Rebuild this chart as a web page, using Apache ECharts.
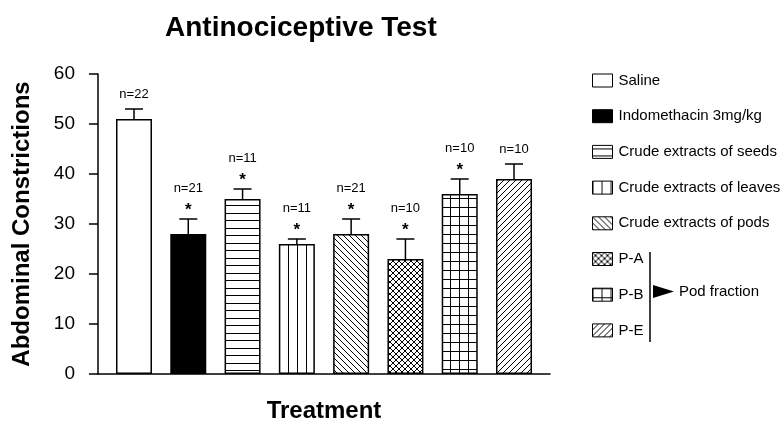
<!DOCTYPE html>
<html><head><meta charset="utf-8">
<script src="https://cdn.jsdelivr.net/npm/echarts@6/dist/echarts.min.js"></script>
<style>html,body{margin:0;padding:0;background:#fff}#c{width:783px;height:422px}</style>
</head><body><div id="c"></div>
<script>
const categories = ['Saline','Indomethacin 3mg/kg','Crude extracts of seeds','Crude extracts of leaves','Crude extracts of pods','P-A','P-B','P-E'];
const means = [51,28,35,26,28,23,36,39];
const errTops = [53,31,37,27,31,27,39,42];
const nLabels = ['n=22','n=21','n=11','n=11','n=21','n=10','n=10','n=10'];
const significant = [false,true,true,true,true,true,true,false];
const patternTypes = ['white','black','hlines','vlines','backslash','cross','grid','slash'];

const FONT = 'Liberation Sans, Arial, Helvetica, sans-serif';

function makePattern(type){
  if(type==='white') return '#fff';
  if(type==='black') return '#000';
  const c=document.createElement('canvas');
  let w=6,h=6;
  if(type==='hlines'){w=4;h=15;}
  if(type==='vlines'){w=9;h=4;}
  if(type==='grid'){w=9;h=9;}
  c.width=w;c.height=h;
  const g=c.getContext('2d');
  g.fillStyle='#fff';g.fillRect(0,0,w,h);
  g.fillStyle='#000';g.strokeStyle='#000';g.lineWidth=1;
  if(type==='hlines'){g.fillRect(0,3,w,1);g.fillRect(0,10,w,1);}
  if(type==='vlines'){g.fillRect(0,0,1,h);}
  if(type==='grid'){g.fillRect(0,0,1,h);g.fillRect(0,0,w,1);}
  function diag(dir){
    g.beginPath();
    if(dir>0){
      g.moveTo(-1,-1);g.lineTo(w+1,h+1);
      g.moveTo(-1,h-1);g.lineTo(1,h+1);
      g.moveTo(w-1,-1);g.lineTo(w+1,1);
    } else {
      g.moveTo(-1,h+1);g.lineTo(w+1,-1);
      g.moveTo(-1,1);g.lineTo(1,-1);
      g.moveTo(w-1,h+1);g.lineTo(w+1,h-1);
    }
    g.stroke();
  }
  if(type==='backslash') diag(1);
  if(type==='slash') diag(-1);
  if(type==='cross'){diag(1);diag(-1);}
  return {image:c,repeat:'repeat'};
}

const barSeries = categories.map((name,i)=>({
  name:name,
  type:'bar',
  barWidth:36,
  barGap:'-100%',
  data:[[i,means[i]]],
  itemStyle:{color:makePattern(patternTypes[i]),borderColor:'#000',borderWidth:1.5},
  emphasis:{disabled:true},
  z:2
}));

const errSeries = {
  name:'err',
  type:'custom',
  data:categories.map((c,i)=>[i,errTops[i],means[i]]),
  z:3,
  renderItem:function(params,api){
    const idx=params.dataIndex;
    const i=api.value(0);
    const top=api.coord([i,api.value(1)]);
    const base=api.coord([i,api.value(2)]);
    const kids=[
      {type:'line',shape:{x1:top[0],y1:base[1],x2:top[0],y2:top[1]},style:{stroke:'#000',lineWidth:1.5}},
      {type:'line',shape:{x1:top[0]-9,y1:top[1],x2:top[0]+9,y2:top[1]},style:{stroke:'#000',lineWidth:1.5}}
    ];
    if(significant[idx]){
      kids.push({type:'text',style:{text:'*',x:top[0],y:top[1]-9,align:'center',verticalAlign:'middle',font:'bold 17px '+FONT,fill:'#000'}});
    }
    kids.push({type:'text',style:{text:nLabels[idx],x:top[0],y:top[1]-(significant[idx]?31:15),align:'center',verticalAlign:'middle',font:'13px '+FONT,fill:'#000'}});
    return {type:'group',children:kids};
  }
};

const chart=echarts.init(document.getElementById('c'),null,{renderer:'canvas'});
chart.setOption({
  animation:false,
  backgroundColor:'#fff',
  title:{text:'Antinociceptive Test',left:165,top:14,padding:0,textStyle:{fontFamily:FONT,fontSize:28,fontWeight:'bold',color:'#000'}},
  grid:{left:98,right:233,top:74,bottom:48,containLabel:false,outerBoundsMode:'none'},
  legend:{
    data:categories,orient:'vertical',left:592,top:73,padding:0,
    itemWidth:20,itemHeight:13,itemGap:20.7,icon:'rect',
    selectedMode:false,
    itemStyle:{borderColor:'#000',borderWidth:1},
    textStyle:{fontFamily:FONT,fontSize:15,color:'#000',padding:[0,0,0,1]}
  },
  xAxis:{
    type:'value',min:-0.663,max:7.663,
    name:'Treatment',nameLocation:'middle',nameGap:25,
    nameTextStyle:{fontFamily:FONT,fontSize:24,fontWeight:'bold',color:'#000'},
    axisLine:{show:true,onZero:false,lineStyle:{color:'#000',width:1.5}},
    axisTick:{show:false},axisLabel:{show:false},splitLine:{show:false}
  },
  yAxis:{
    type:'value',min:0,max:60,interval:10,
    name:'Abdominal Constrictions',nameLocation:'middle',nameGap:64,nameRotate:90,
    nameTextStyle:{fontFamily:FONT,fontSize:24,fontWeight:'bold',color:'#000'},
    axisLine:{show:true,onZero:false,lineStyle:{color:'#000',width:1.5}},
    axisTick:{show:true,length:9,lineStyle:{color:'#000',width:1.5}},
    axisLabel:{margin:23,fontFamily:FONT,fontSize:19,color:'#000'},
    splitLine:{show:false}
  },
  series:[...barSeries,errSeries],
  graphic:[
    {type:'line',shape:{x1:650,y1:252,x2:650,y2:342},style:{stroke:'#000',lineWidth:1.5}},
    {type:'polygon',shape:{points:[[653,285],[653,298],[674,291.5]]},style:{fill:'#000'}},
    {type:'text',style:{text:'Pod fraction',x:679,y:292,verticalAlign:'middle',font:'15px '+FONT,fill:'#000'}}
  ]
});
</script></body></html>
